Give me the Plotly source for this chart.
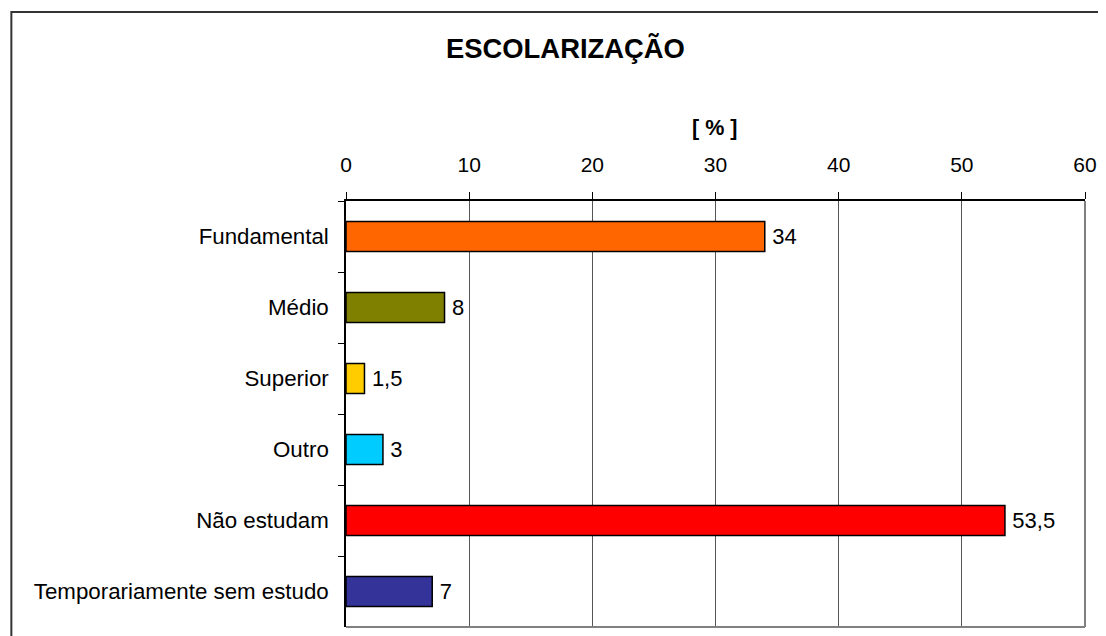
import plotly.graph_objects as go

categories = ["Fundamental", "Médio", "Superior", "Outro", "Não estudam", "Temporariamente sem estudo"]
values = [34, 8, 1.5, 3, 53.5, 7]
colors = ["#FF6600", "#808000", "#FFCC00", "#00CCFF", "#FF0000", "#333399"]
x_ticks = [0, 10, 20, 30, 40, 50, 60]
title_text = "ESCOLARIZAÇÃO"
axis_title = "[ % ]"

# page body has an 8px margin; work in window pixels and shift
OFF = 8
W, H = 1106 - OFF, 636 - OFF
L, R, T, B = 346 - OFF, 1088 - OFF, 201 - OFF, 627 - OFF

def px(xw):
    return (xw - OFF - L) / (R - L)

def py(yw):
    return (B - (yw - OFF)) / (B - T)

fig = go.Figure(go.Bar(
    y=categories, x=values, orientation="h",
    marker=dict(color=colors, line=dict(color="black", width=1.5)),
    width=0.42,
    texttemplate="\u2009%{x}", textposition="outside",
    textfont=dict(size=22, color="black"),
    constraintext="none", cliponaxis=False,
))

font = "Liberation Sans, Arial, sans-serif"
fig.update_layout(
    width=W, height=H, autosize=False,
    margin=dict(l=L, r=W - R, t=T, b=H - B, pad=0),
    paper_bgcolor="white", plot_bgcolor="white",
    font=dict(family=font, color="black", size=21),
    separators=",.",
    showlegend=False,
    xaxis=dict(
        side="top", range=[0, 60], tickvals=x_ticks,
        showgrid=True, gridcolor="#555555", gridwidth=1,
        showline=True, linecolor="black", linewidth=1.5,
        ticks="outside", ticklen=7, tickcolor="black", tickwidth=1,
        tickfont=dict(size=21), zeroline=False,
        ticklabelstandoff=12,
    ),
    yaxis=dict(
        type="category", autorange="reversed", tickson="boundaries",
        showgrid=False, showline=True, linecolor="black", linewidth=1.5,
        ticks="outside", ticklen=6, tickcolor="black", tickwidth=1,
        tickfont=dict(size=22.3), ticklabelstandoff=11,
    ),
    shapes=[
        dict(type="line", xref="paper", yref="paper", x0=1, x1=1, y0=0, y1=1,
             line=dict(color="#808080", width=2)),
        dict(type="line", xref="paper", yref="paper", x0=0, x1=1, y0=0, y1=0,
             line=dict(color="#808080", width=2)),
        dict(type="rect", xref="paper", yref="paper",
             x0=px(10), x1=px(1140), y0=py(660), y1=py(12),
             line=dict(color="#333333", width=2), fillcolor="rgba(0,0,0,0)"),
    ],
    annotations=[
        dict(text="<b>" + title_text + "</b>", xref="paper", yref="paper",
             x=px(566.5), y=py(49), xanchor="center", yanchor="middle",
             showarrow=False, font=dict(size=27.4, family=font)),
        dict(text="<b>" + axis_title + "</b>", xref="paper", yref="paper",
             x=px(716), y=py(128), xanchor="center", yanchor="middle",
             showarrow=False, font=dict(size=21.5, family=font)),
    ],
)

fig.write_html("out.html")
